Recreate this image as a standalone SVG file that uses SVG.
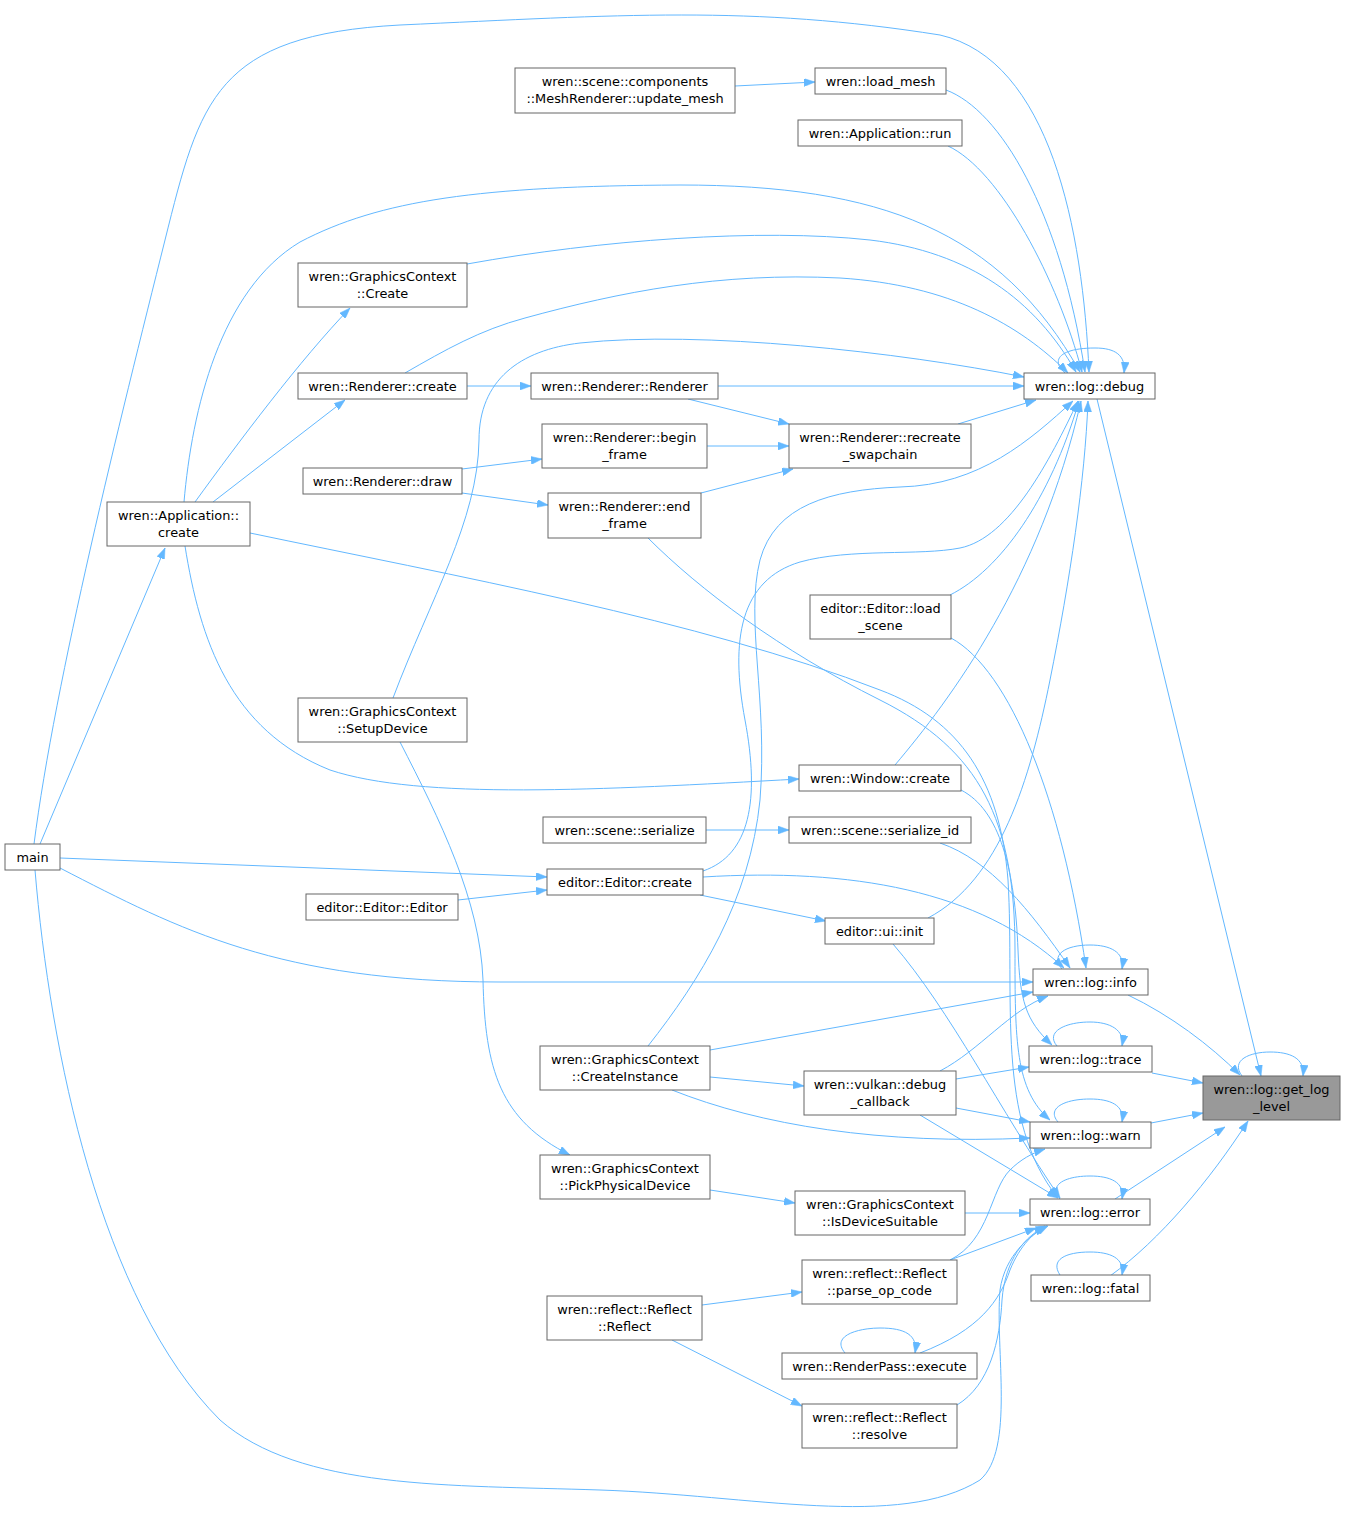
<svg xmlns="http://www.w3.org/2000/svg" width="1346" height="1520" viewBox="0 0 1346 1520">
<defs>
<style>
.node rect{fill:#ffffff;stroke:#666666;stroke-width:1}
.node.hl rect{fill:#999999}
.node text{font-family:"DejaVu Sans","Liberation Sans",sans-serif;font-size:12.9px;fill:#000000;text-anchor:middle}
#edges path{fill:none;stroke:#63b8ff;stroke-width:1;marker-end:url(#ah)}
</style>
<marker id="ah" markerUnits="userSpaceOnUse" markerWidth="11" markerHeight="8" refX="11" refY="4" orient="auto">
<path d="M0,0 L11,4 L0,8 z" fill="#63b8ff" stroke="#63b8ff" stroke-width="0.5"/>
</marker>
</defs>
<rect x="0" y="0" width="1346" height="1520" fill="#ffffff"/>
<g id="edges">
<path d="M40,844 L165,548"/>
<path d="M34,844 C55,680 120,420 165,240 C200,100 215,35 400,25 C620,15 750,5 940,35 C1050,60 1083,230 1089,372"/>
<path d="M184,502 C192,410 220,290 300,242 C380,200 480,186 680,185 C880,185 1000,230 1080,372"/>
<path d="M467,264 C600,240 760,228 870,240 C970,252 1035,300 1076,372"/>
<path d="M405,373 C445,350 480,330 525,318 C620,292 720,272 840,278 C950,285 1020,325 1068,373"/>
<path d="M393,698 C430,600 478,520 479,440 C479,380 520,350 580,343 C700,330 900,352 1024,377"/>
<path d="M946,90 C1000,110 1060,210 1085,372"/>
<path d="M948,146 C1000,170 1058,280 1082,372"/>
<path d="M735,86 L815,82"/>
<path d="M1065,373 C1050,360 1060,348 1095,348 C1115,348 1126,355 1124,373"/>
<path d="M718,386 L1024,386"/>
<path d="M958,424 L1036,400"/>
<path d="M688,399 L789,424"/>
<path d="M707,446 L789,446"/>
<path d="M701,493 L793,469"/>
<path d="M467,386 L531,386"/>
<path d="M462,469 L542,459"/>
<path d="M462,493 L548,505"/>
<path d="M195,502 C240,440 300,360 350,308"/>
<path d="M213,502 L345,400"/>
<path d="M648,1046 C700,980 750,900 760,800 C768,700 745,620 760,560 C775,505 830,490 900,487 C980,485 1030,440 1073,401"/>
<path d="M703,871 C750,855 760,800 745,720 C730,640 740,580 800,562 C850,548 920,556 960,548 C1010,538 1050,460 1078,401"/>
<path d="M950,595 C1000,570 1050,500 1079,401"/>
<path d="M895,765 C950,700 1040,580 1081,401"/>
<path d="M928,918 C1000,880 1030,780 1050,680 C1070,580 1085,480 1088,401"/>
<path d="M185,546 C200,640 230,730 330,770 C420,800 600,790 799,779"/>
<path d="M250,533 C450,575 700,620 880,690 C960,720 1000,780 1008,880 C1015,1000 995,1120 1058,1198"/>
<path d="M648,538 C700,590 780,650 880,700 C980,750 1015,820 1015,950 C1015,1040 1015,1090 1050,1120"/>
<path d="M961,790 C1000,810 1015,870 1018,950 C1020,1000 1025,1020 1052,1045"/>
<path d="M706,830 L789,830"/>
<path d="M940,843 C990,860 1030,910 1070,968"/>
<path d="M703,877 C850,868 980,890 1064,968"/>
<path d="M951,638 C1010,670 1062,800 1086,968"/>
<path d="M60,858 L547,877"/>
<path d="M458,900 L547,890"/>
<path d="M700,895 L826,921"/>
<path d="M60,868 C180,930 280,982 500,982 L1033,982"/>
<path d="M710,1050 L1033,992"/>
<path d="M940,1071 C980,1050 1010,1010 1048,996"/>
<path d="M1062,969 C1050,955 1065,945 1090,945 C1110,945 1125,952 1122,969"/>
<path d="M956,1079 L1029,1067"/>
<path d="M1057,1046 C1045,1032 1065,1022 1090,1022 C1110,1022 1125,1030 1122,1046"/>
<path d="M672,1090 C760,1125 880,1145 1030,1138"/>
<path d="M956,1108 L1030,1122"/>
<path d="M950,1260 C990,1240 990,1190 1010,1170 C1020,1160 1032,1153 1045,1149"/>
<path d="M1058,1122 C1046,1108 1065,1099 1090,1099 C1110,1099 1125,1105 1122,1122"/>
<path d="M920,1115 L1058,1198"/>
<path d="M893,944 C950,1010 1000,1110 1060,1198"/>
<path d="M965,1213 L1030,1213"/>
<path d="M950,1260 L1036,1228"/>
<path d="M920,1353 C980,1330 1000,1300 1010,1270 C1020,1245 1035,1232 1045,1226"/>
<path d="M957,1405 C990,1385 1000,1340 1002,1300 C1005,1260 1025,1235 1047,1226"/>
<path d="M35,870 C50,1050 100,1300 220,1420 C300,1490 450,1485 600,1490 C750,1495 900,1530 980,1480 C1015,1450 995,1350 1000,1290 C1005,1255 1030,1235 1048,1226"/>
<path d="M1060,1199 C1048,1185 1065,1176 1090,1176 C1110,1176 1125,1182 1122,1199"/>
<path d="M845,1353 C830,1335 860,1328 880,1328 C905,1328 918,1335 915,1353"/>
<path d="M1060,1275 C1050,1260 1065,1252 1090,1252 C1110,1252 1125,1258 1122,1275"/>
<path d="M1242,1076 C1230,1060 1250,1052 1270,1052 C1290,1052 1305,1058 1303,1076"/>
<path d="M1097,399 L1261,1076"/>
<path d="M1128,995 C1170,1015 1210,1045 1240,1075"/>
<path d="M1152,1073 L1203,1083"/>
<path d="M1151,1123 L1203,1113"/>
<path d="M1115,1199 L1225,1127"/>
<path d="M1110,1276 C1160,1240 1210,1180 1248,1121"/>
<path d="M710,1190 L795,1203"/>
<path d="M400,742 C440,820 480,900 483,980 C485,1070 500,1120 570,1155"/>
<path d="M710,1077 L804,1086"/>
<path d="M702,1305 L802,1292"/>
<path d="M672,1340 L802,1406"/>
</g>
<g id="n_main" class="node"><rect x="5" y="844" width="55" height="26"/><text x="32.5" y="861.6">main</text></g>
<g id="n_appcreate" class="node"><rect x="107" y="502" width="143" height="44"/><text x="178.5" y="519.7">wren::Application::</text><text x="178.5" y="536.7">create</text></g>
<g id="n_gccreate" class="node"><rect x="298" y="263" width="169" height="44"/><text x="382.5" y="280.7">wren::GraphicsContext</text><text x="382.5" y="297.7">::Create</text></g>
<g id="n_rcreate" class="node"><rect x="298" y="373" width="169" height="26"/><text x="382.5" y="390.6">wren::Renderer::create</text></g>
<g id="n_rdraw" class="node"><rect x="303" y="468" width="159" height="26"/><text x="382.5" y="485.6">wren::Renderer::draw</text></g>
<g id="n_setup" class="node"><rect x="298" y="698" width="169" height="44"/><text x="382.5" y="715.7">wren::GraphicsContext</text><text x="382.5" y="732.7">::SetupDevice</text></g>
<g id="n_editor" class="node"><rect x="306" y="894" width="152" height="26"/><text x="382" y="911.6">editor::Editor::Editor</text></g>
<g id="n_updmesh" class="node"><rect x="515" y="68" width="220" height="45"/><text x="625" y="86.2">wren::scene::components</text><text x="625" y="103.2">::MeshRenderer::update_mesh</text></g>
<g id="n_renderer" class="node"><rect x="531" y="373" width="187" height="26"/><text x="624.5" y="390.6">wren::Renderer::Renderer</text></g>
<g id="n_begin" class="node"><rect x="542" y="424" width="165" height="44"/><text x="624.5" y="441.7">wren::Renderer::begin</text><text x="624.5" y="458.7">_frame</text></g>
<g id="n_end" class="node"><rect x="548" y="493" width="153" height="45"/><text x="624.5" y="511.2">wren::Renderer::end</text><text x="624.5" y="528.2">_frame</text></g>
<g id="n_serialize" class="node"><rect x="543" y="817" width="163" height="26"/><text x="624.5" y="834.6">wren::scene::serialize</text></g>
<g id="n_edcreate" class="node"><rect x="547" y="869" width="156" height="26"/><text x="625" y="886.6">editor::Editor::create</text></g>
<g id="n_createinst" class="node"><rect x="540" y="1046" width="170" height="44"/><text x="625" y="1063.7">wren::GraphicsContext</text><text x="625" y="1080.7">::CreateInstance</text></g>
<g id="n_pick" class="node"><rect x="540" y="1155" width="170" height="44"/><text x="625" y="1172.7">wren::GraphicsContext</text><text x="625" y="1189.7">::PickPhysicalDevice</text></g>
<g id="n_reflect" class="node"><rect x="547" y="1296" width="155" height="44"/><text x="624.5" y="1313.7">wren::reflect::Reflect</text><text x="624.5" y="1330.7">::Reflect</text></g>
<g id="n_loadmesh" class="node"><rect x="815" y="68" width="131" height="26"/><text x="880.5" y="85.6">wren::load_mesh</text></g>
<g id="n_apprun" class="node"><rect x="798" y="120" width="164" height="26"/><text x="880" y="137.6">wren::Application::run</text></g>
<g id="n_recreate" class="node"><rect x="789" y="424" width="182" height="44"/><text x="880" y="441.7">wren::Renderer::recreate</text><text x="880" y="458.7">_swapchain</text></g>
<g id="n_loadscene" class="node"><rect x="810" y="595" width="141" height="44"/><text x="880.5" y="612.7">editor::Editor::load</text><text x="880.5" y="629.7">_scene</text></g>
<g id="n_window" class="node"><rect x="799" y="765" width="162" height="26"/><text x="880" y="782.6">wren::Window::create</text></g>
<g id="n_serid" class="node"><rect x="789" y="817" width="182" height="26"/><text x="880" y="834.6">wren::scene::serialize_id</text></g>
<g id="n_uiinit" class="node"><rect x="825" y="918" width="109" height="26"/><text x="879.5" y="935.6">editor::ui::init</text></g>
<g id="n_dbgcb" class="node"><rect x="804" y="1071" width="152" height="44"/><text x="880" y="1088.7">wren::vulkan::debug</text><text x="880" y="1105.7">_callback</text></g>
<g id="n_suitable" class="node"><rect x="795" y="1191" width="170" height="44"/><text x="880" y="1208.7">wren::GraphicsContext</text><text x="880" y="1225.7">::IsDeviceSuitable</text></g>
<g id="n_parse" class="node"><rect x="802" y="1260" width="155" height="44"/><text x="879.5" y="1277.7">wren::reflect::Reflect</text><text x="879.5" y="1294.7">::parse_op_code</text></g>
<g id="n_execute" class="node"><rect x="782" y="1353" width="195" height="26"/><text x="879.5" y="1370.6">wren::RenderPass::execute</text></g>
<g id="n_resolve" class="node"><rect x="802" y="1404" width="155" height="44"/><text x="879.5" y="1421.7">wren::reflect::Reflect</text><text x="879.5" y="1438.7">::resolve</text></g>
<g id="n_debug" class="node"><rect x="1024" y="373" width="131" height="26"/><text x="1089.5" y="390.6">wren::log::debug</text></g>
<g id="n_info" class="node"><rect x="1033" y="969" width="115" height="26"/><text x="1090.5" y="986.6">wren::log::info</text></g>
<g id="n_trace" class="node"><rect x="1029" y="1046" width="123" height="26"/><text x="1090.5" y="1063.6">wren::log::trace</text></g>
<g id="n_warn" class="node"><rect x="1030" y="1122" width="121" height="26"/><text x="1090.5" y="1139.6">wren::log::warn</text></g>
<g id="n_error" class="node"><rect x="1030" y="1199" width="120" height="26"/><text x="1090" y="1216.6">wren::log::error</text></g>
<g id="n_fatal" class="node"><rect x="1031" y="1275" width="119" height="26"/><text x="1090.5" y="1292.6">wren::log::fatal</text></g>
<g id="n_getlog" class="node hl"><rect x="1203" y="1076" width="137" height="44"/><text x="1271.5" y="1093.7">wren::log::get_log</text><text x="1271.5" y="1110.7">_level</text></g>
</svg>
